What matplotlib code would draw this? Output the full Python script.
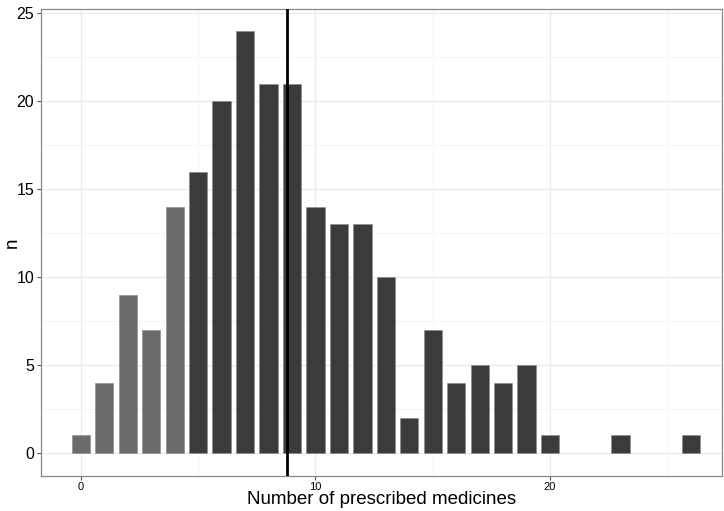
import matplotlib
matplotlib.use("Agg")
import matplotlib.pyplot as plt
import numpy as np

plt.rcParams['font.family'] = ['Liberation Sans', 'DejaVu Sans']

medicines = [0, 1, 2, 3, 4, 5, 6, 7, 8, 9, 10, 11, 12, 13, 14, 15, 16, 17, 18, 19, 20, 23, 26]
counts = [1, 4, 9, 7, 14, 16, 20, 24, 21, 21, 14, 13, 13, 10, 2, 7, 4, 5, 4, 5, 1, 1, 1]
light_below = 5  # bars under this value are drawn lighter

x = np.array(medicines)
n = np.array(counts)
mean_val = (x * n).sum() / n.sum()

colors = ['#6b6b6b' if v < light_below else '#3b3b3b' for v in medicines]

fig = plt.figure(figsize=(7.24, 5.11), dpi=100)
ax = fig.add_axes([0.0566, 0.0685, 0.9404, 0.9135])

ax.bar(x, n, width=0.78, color=colors, edgecolor='#8a8a8a', linewidth=0.4, zorder=2)
ax.axvline(mean_val, color='black', linewidth=2, zorder=3)

ax.set_xlim(-1.70, 27.32)
ax.set_ylim(-1.31, 25.23)
ax.set_xticks([0, 10, 20])
ax.set_xticks([5, 15, 25], minor=True)
ax.set_yticks([0, 5, 10, 15, 20, 25])
ax.set_yticks([2.5, 7.5, 12.5, 17.5, 22.5], minor=True)

ax.grid(which='major', color='#ebebeb', linewidth=0.9, zorder=0)
ax.grid(which='minor', color='#f4f4f4', linewidth=0.6, zorder=0)
ax.set_axisbelow(True)

for s in ax.spines.values():
    s.set_color('#888888')
    s.set_linewidth(0.9)

ax.tick_params(axis='y', which='major', labelsize=11.5, length=3, color='#555555', pad=2)
ax.tick_params(axis='x', which='major', labelsize=8, length=3, color='#555555', pad=1)
ax.tick_params(which='minor', length=0)

ax.set_xlabel('Number of prescribed medicines', fontsize=13.5)
ax.set_ylabel('n', fontsize=13.5)
ax.xaxis.set_label_coords(0.5, -0.05)
ax.yaxis.set_label_coords(-0.042, 0.5)
ax.xaxis.label.set_va('center')
ax.yaxis.label.set_va('center')

fig.savefig('out.png', dpi=100)
